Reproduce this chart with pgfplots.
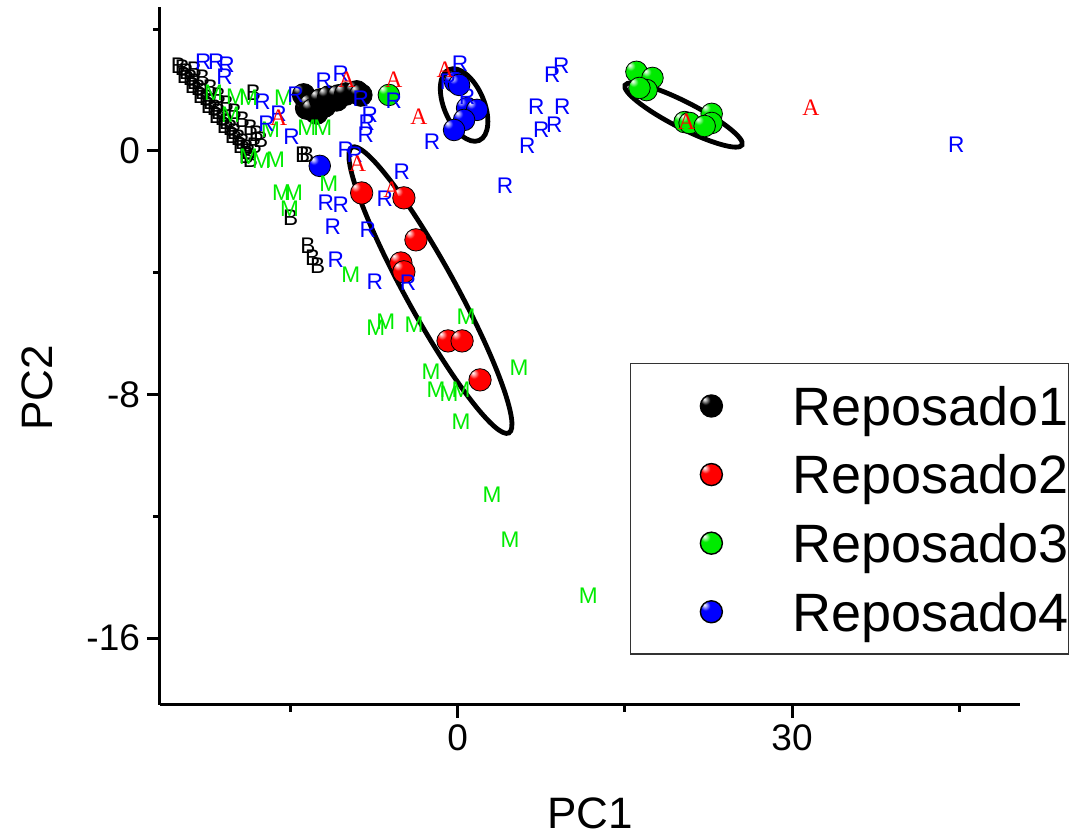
\documentclass[border=0pt]{standalone}
\usepackage{pgfplots}
\pgfplotsset{compat=1.18}
\usepackage{fontspec}
\setmainfont{Liberation Sans}
\newfontfamily\serifA{Liberation Serif}
\definecolor{mygreen}{RGB}{0,235,0}
\colorlet{ballcol}{red}
\pgfdeclareradialshading[ballcol]{myball}{\pgfqpoint{-16bp}{16bp}}{%
  color(0bp)=(white); color(3bp)=(ballcol!25!white); color(11bp)=(ballcol);
  color(40bp)=(ballcol); color(62bp)=(ballcol!75!black); color(75bp)=(ballcol!60!black)}
\newcommand{\ball}[2]{\tikz{\colorlet{ballcol}{#1}\shade[shading=myball] (0,0) circle (#2);}}
\pgfplotsset{
  ballplot/.style n args={2}{only marks, mark=none,
    nodes near coords={\ball{#1}{#2}},
    every node near coord/.style={anchor=center, inner sep=0pt},
    legend image code/.code={\path (0pt,0pt) (80pt,0pt); \colorlet{ballcol}{#1}\shade[shading=myball] (40pt,0pt) circle (5.5pt);}},
  txt/.style n args={3}{forget plot, only marks, mark=text, text mark={#1}, text mark as node=true,
    text mark style={font=#3, text=#2}}
}
\begin{document}
\begin{tikzpicture}
\begin{axis}[
  scale only axis, width=430pt, height=349pt,
  xmin=-26.7, xmax=50.45, ymin=-18.2, ymax=4.73,
  axis x line*=bottom, axis y line*=left,
  axis line style={line width=1.5pt},
  tick align=outside,
  major tick length=6.5pt, minor tick length=3.3pt,
  every tick/.style={black, line width=1.5pt},
  xtick={0,30}, xticklabels={0,30}, minor xtick={-15,15,45},
  ytick={-16,-8,0}, yticklabels={-16,-8,0}, minor ytick={-12,-4,4},
  ticklabel style={font=\fontsize{18.5}{20}\selectfont},
  xlabel={PC1}, ylabel={PC2},
  every axis x label/.style={at={(axis description cs:0.5,-0.155)}, anchor=center, font=\fontsize{22}{24}\selectfont},
  every axis y label/.style={at={(axis description cs:-0.143,0.454)}, rotate=90, anchor=center, font=\fontsize{22}{24}\selectfont},
  clip=false,
  legend style={at={(axis description cs:0.5465,0.49)}, anchor=north west,
    draw=black!80, line width=0.7pt, inner xsep=0pt, inner ysep=4pt,
    font=\fontsize{27}{30}\selectfont, row sep=0pt, column sep=0pt,
    nodes={inner sep=0pt, text height=26.85pt, text depth=7.45pt}},
  legend cell align=left,
]
% balls
\addplot[ballplot={black}{5.7pt}]
  coordinates {(-13.54,1.41) (-12.64,1.25) (-11.92,1.48) (-10.84,1.68) (-13.81,1.84) (-13.18,1.51) (-13.00,1.35) (-12.28,1.68) (-11.56,1.77) (-10.67,1.81) (-10.04,1.87) (-9.05,1.94) (-8.69,1.84)};
\addlegendentry{Reposado1\hspace{20pt}}
\addplot[ballplot={red}{5.6pt}]
  coordinates {(-8.61,-1.38) (-4.82,-1.54) (-3.74,-2.92) (-5.09,-3.68) (-4.82,-3.97) (-0.86,-6.24) (0.40,-6.24) (2.01,-7.52)};
\addlegendentry{Reposado2\hspace{20pt}}
\addplot[ballplot={mygreen}{5.4pt}]
  coordinates {(16.04,2.60) (17.48,2.40) (16.95,2.00) (16.31,2.07) (20.36,0.95) (20.81,0.92) (22.79,1.22) (22.79,0.92) (22.16,0.82) (-6.17,1.84)};
\addlegendentry{Reposado3\hspace{20pt}}
\addplot[ballplot={blue}{5.4pt}]
  coordinates {(-0.23,2.27) (0.13,2.17) (0.85,1.41) (1.74,1.35) (0.58,1.02) (-0.32,0.69) (-12.37,-0.49)};
\addlegendentry{Reposado4\hspace{20pt}}
% text labels B
\addplot[txt={B}{black}{\fontsize{11.3}{12}\selectfont}]
  coordinates {(-25.05,2.79) (-24.69,2.73) (-24.33,2.60) (-24.51,2.46) (-23.97,2.40) (-23.61,2.27) (-23.79,2.14) (-23.26,2.07) (-22.90,1.94) (-23.08,1.81) (-22.54,1.74) (-22.18,1.61) (-22.36,1.48) (-21.82,1.41) (-21.46,1.28) (-21.64,1.15) (-21.10,1.08) (-20.74,0.95) (-20.92,0.82) (-20.38,0.76) (-20.02,0.62) (-20.20,0.49) (-19.66,0.43) (-19.30,0.30) (-19.48,0.16) (-18.94,0.10) (-18.76,-0.03) (-18.94,-0.16) (-18.58,-0.30)
  (-23.61,2.66) (-22.90,2.40) (-22.18,2.07) (-21.46,1.81) (-20.74,1.54) (-20.02,1.28) (-19.30,1.02) (-18.58,0.76) (-18.04,0.56) (-17.68,0.36) (-18.22,0.16)
  (-18.31,1.91) (-13.90,-0.13) (-13.54,-0.13) (-14.98,-2.20) (-13.44,-3.12) (-13.00,-3.51) (-12.55,-3.78)};
% M
\addplot[txt={M}{mygreen}{\fontsize{11.3}{12}\selectfont}]
  coordinates {(-21.90,1.91) (-19.92,1.77) (-18.76,1.74) (-20.38,1.18) (-15.61,1.74) (-16.78,0.69) (-13.54,0.76) (-12.10,0.76) (-18.76,-0.20) (-17.59,-0.33) (-16.33,-0.30) (-11.56,-1.08) (-15.79,-1.38) (-14.71,-1.38) (-15.07,-1.91) (-9.58,-4.07) (-7.34,-5.81) (-6.44,-5.62) (-3.92,-5.72) (0.76,-5.45) (-2.39,-7.26) (5.52,-7.13) (-1.94,-7.85) (-0.77,-7.98) (0.31,-7.85) (0.31,-8.90) (3.09,-11.30) (4.71,-12.78) (11.73,-14.62)};
% R
\addplot[txt={R}{blue}{\fontsize{11.3}{12}\selectfont}]
  coordinates {(-22.81,2.92) (-21.64,2.92) (-20.74,2.83) (-20.92,2.43) (-17.50,1.61) (-17.14,0.89) (-16.06,1.22) (-14.89,0.46) (-14.53,1.84) (-12.01,2.30) (-10.49,2.53) (-8.69,1.71) (-7.88,1.18) (-8.15,0.92) (-8.24,0.53) (-5.72,1.64) (-10.04,0.03) (-9.22,-0.13) (-11.83,-1.71) (-10.49,-1.77) (-11.20,-2.50) (-10.93,-3.58) (-7.43,-4.30) (-8.06,-2.60) (-6.53,-1.58) (-5.00,-0.69) (-4.46,-4.34) (-2.30,0.30) (0.22,2.86) (0.85,1.77) (-0.86,2.27) (8.49,2.50) (9.30,2.79) (7.05,1.45) (9.39,1.45) (8.67,0.85) (7.50,0.69) (6.24,0.16) (4.26,-1.15) (44.73,0.20)};
% A
\addplot[txt={A}{red}{\serifA\fontsize{11.8}{12}\selectfont}]
  coordinates {(-16.06,1.08) (-9.94,2.33) (-5.72,2.33) (-3.47,1.12) (-1.13,2.66) (-8.96,-0.43) (-5.90,-1.28) (20.54,0.95) (31.69,1.41)};
% confidence ellipses
\draw[line width=2.4pt, rotate around={-61.2:(axis cs:-2.44,-4.57)}] (axis cs:-2.44,-4.57) ellipse [x radius=81.5pt, y radius=12.5pt];
\draw[line width=2.4pt, rotate around={-67:(axis cs:0.58,1.51)}] (axis cs:0.58,1.51) ellipse [x radius=19.25pt, y radius=10pt];
\draw[line width=2.4pt, rotate around={-27.1:(axis cs:20.27,1.18)}] (axis cs:20.27,1.18) ellipse [x radius=32.85pt, y radius=6.5pt];
\end{axis}
\pgfresetboundingbox
\path[use as bounding box] (-80pt,-67pt) rectangle (459pt,352.5pt);
\end{tikzpicture}
\end{document}
